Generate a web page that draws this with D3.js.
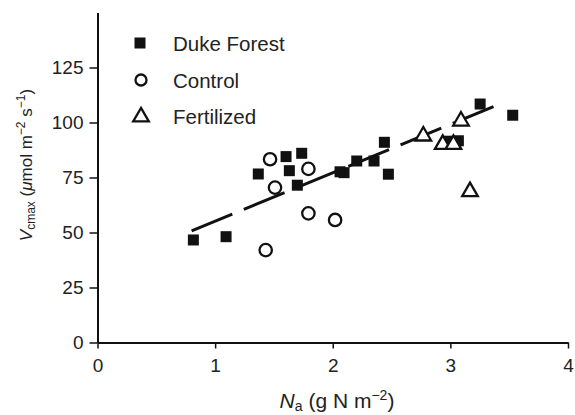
<!DOCTYPE html>
<html><head><meta charset="utf-8">
<script src="https://cdn.jsdelivr.net/npm/d3@7"></script>
<style>
body{margin:0;background:#fff;}
svg{display:block;font-family:"Liberation Sans",Arial,sans-serif;}
</style></head>
<body><svg id="c" width="575" height="415"></svg>
<script>
const dukeX = [0.815,1.093,1.367,1.603,1.631,1.736,1.699,2.062,2.096,2.204,2.351,2.439,2.473,2.97,3.068,3.253,3.53];
const dukeY = [46.6,48.1,76.6,84.5,78.1,86.0,71.5,77.6,77.2,82.5,82.5,91.0,76.5,91.5,91.7,108.4,103.3];
const controlX = [1.467,1.793,1.509,1.793,2.02,1.43];
const controlY = [83.3,78.9,70.4,58.7,55.7,42.0];
const fertX = [2.77,2.935,3.026,3.09,3.167];
const fertY = [94.3,90.5,90.5,101.1,69.0];
const fitSlope = 22.02, fitIntercept = 33.1, fitRange = [0.80,3.42];
const xTicks = [0,1,2,3,4];
const yTicks = [0,25,50,75,100,125];
const legendLabels = ["Duke Forest","Control","Fertilized"];

const svg = d3.select("#c");
const x = d3.scaleLinear().domain([0,4]).range([97.5,568]);
const y = d3.scaleLinear().domain([0,150]).range([342.5,12.5]);

// axes
const xa = svg.append("g").attr("transform","translate(0,"+y(0)+")")
  .call(d3.axisBottom(x).tickValues(xTicks).tickSize(6).tickSizeOuter(0).tickFormat(d3.format("d")));
const ya = svg.append("g").attr("transform","translate("+x(0)+",0)")
  .call(d3.axisLeft(y).tickValues(yTicks).tickSize(8).tickSizeOuter(0));
[xa,ya].forEach(a=>{
  a.select(".domain").attr("stroke","#111").attr("stroke-width",2);
  a.selectAll(".tick line").attr("stroke","#111").attr("stroke-width",1.5);
  a.selectAll(".tick text").attr("font-size",19).attr("fill","#222").attr("font-family","Liberation Sans, Arial, sans-serif");
});
xa.selectAll(".tick text").attr("dy",null).attr("y",29);
ya.selectAll(".tick text").attr("x",-14);

// fit line
svg.append("line")
  .attr("x1",x(fitRange[0])).attr("y1",y(fitIntercept+fitSlope*fitRange[0]))
  .attr("x2",x(fitRange[1])).attr("y2",y(fitIntercept+fitSlope*fitRange[1]))
  .attr("stroke","#111").attr("stroke-width",3).attr("stroke-dasharray","44,12.5");

const sq = 11;
svg.append("g").selectAll("rect").data(dukeX.map((d,i)=>[d,dukeY[i]])).join("rect")
  .attr("x",d=>x(d[0])-sq/2).attr("y",d=>y(d[1])-sq/2).attr("width",sq).attr("height",sq).attr("fill","#111");
svg.append("g").selectAll("circle").data(controlX.map((d,i)=>[d,controlY[i]])).join("circle")
  .attr("cx",d=>x(d[0])).attr("cy",d=>y(d[1])).attr("r",6.2)
  .attr("fill","#fff").attr("stroke","#111").attr("stroke-width",2.3);
const tri = (cx,cy,s)=>`M${cx},${cy-s*0.62}L${cx+s*0.6},${cy+s*0.42}L${cx-s*0.6},${cy+s*0.42}Z`;
svg.append("g").selectAll("path").data(fertX.map((d,i)=>[d,fertY[i]])).join("path")
  .attr("d",d=>tri(x(d[0]),y(d[1]),13)).attr("fill","#fff").attr("stroke","#111").attr("stroke-width",2.3).attr("stroke-linejoin","miter");

// legend
const lg = svg.append("g");
const ly = [43,80,116];
lg.append("rect").attr("x",140-5.5).attr("y",ly[0]-5.5).attr("width",11).attr("height",11).attr("fill","#111");
lg.append("circle").attr("cx",141).attr("cy",ly[1]).attr("r",5.5).attr("fill","#fff").attr("stroke","#111").attr("stroke-width",2.3);
lg.append("path").attr("d",tri(141,ly[2],13)).attr("fill","#fff").attr("stroke","#111").attr("stroke-width",2.3);
lg.selectAll("text").data(legendLabels).join("text")
  .attr("x",173).attr("y",(d,i)=>ly[i]+7.5).attr("font-size",20.5).attr("fill","#222").text(d=>d);

// x label
const xl = svg.append("text").attr("x",337).attr("y",408).attr("text-anchor","middle").attr("font-size",21).attr("fill","#222");
xl.append("tspan").attr("font-style","italic").text("N");
xl.append("tspan").attr("font-size",14).attr("dy",3).text("a");
xl.append("tspan").attr("dy",-3).text(" (g N m");
xl.append("tspan").attr("font-size",14).attr("dy",-8).text("\u22122");
xl.append("tspan").attr("dy",8).text(")");

// y label
const yl = svg.append("text").attr("transform","translate(32,165) rotate(-90)").attr("text-anchor","middle").attr("font-size",17).attr("fill","#222");
yl.append("tspan").attr("font-style","italic").text("V");
yl.append("tspan").attr("font-size",12).attr("dy",3).text("cmax");
yl.append("tspan").attr("dy",-3).text(" (");
yl.append("tspan").attr("font-style","italic").text("\u03bc");
yl.append("tspan").text("mol m");
yl.append("tspan").attr("font-size",12).attr("dy",-7).text("\u22122");
yl.append("tspan").attr("dy",7).text(" s");
yl.append("tspan").attr("font-size",12).attr("dy",-7).text("\u22121");
yl.append("tspan").attr("dy",7).text(")");
</script></body></html>
